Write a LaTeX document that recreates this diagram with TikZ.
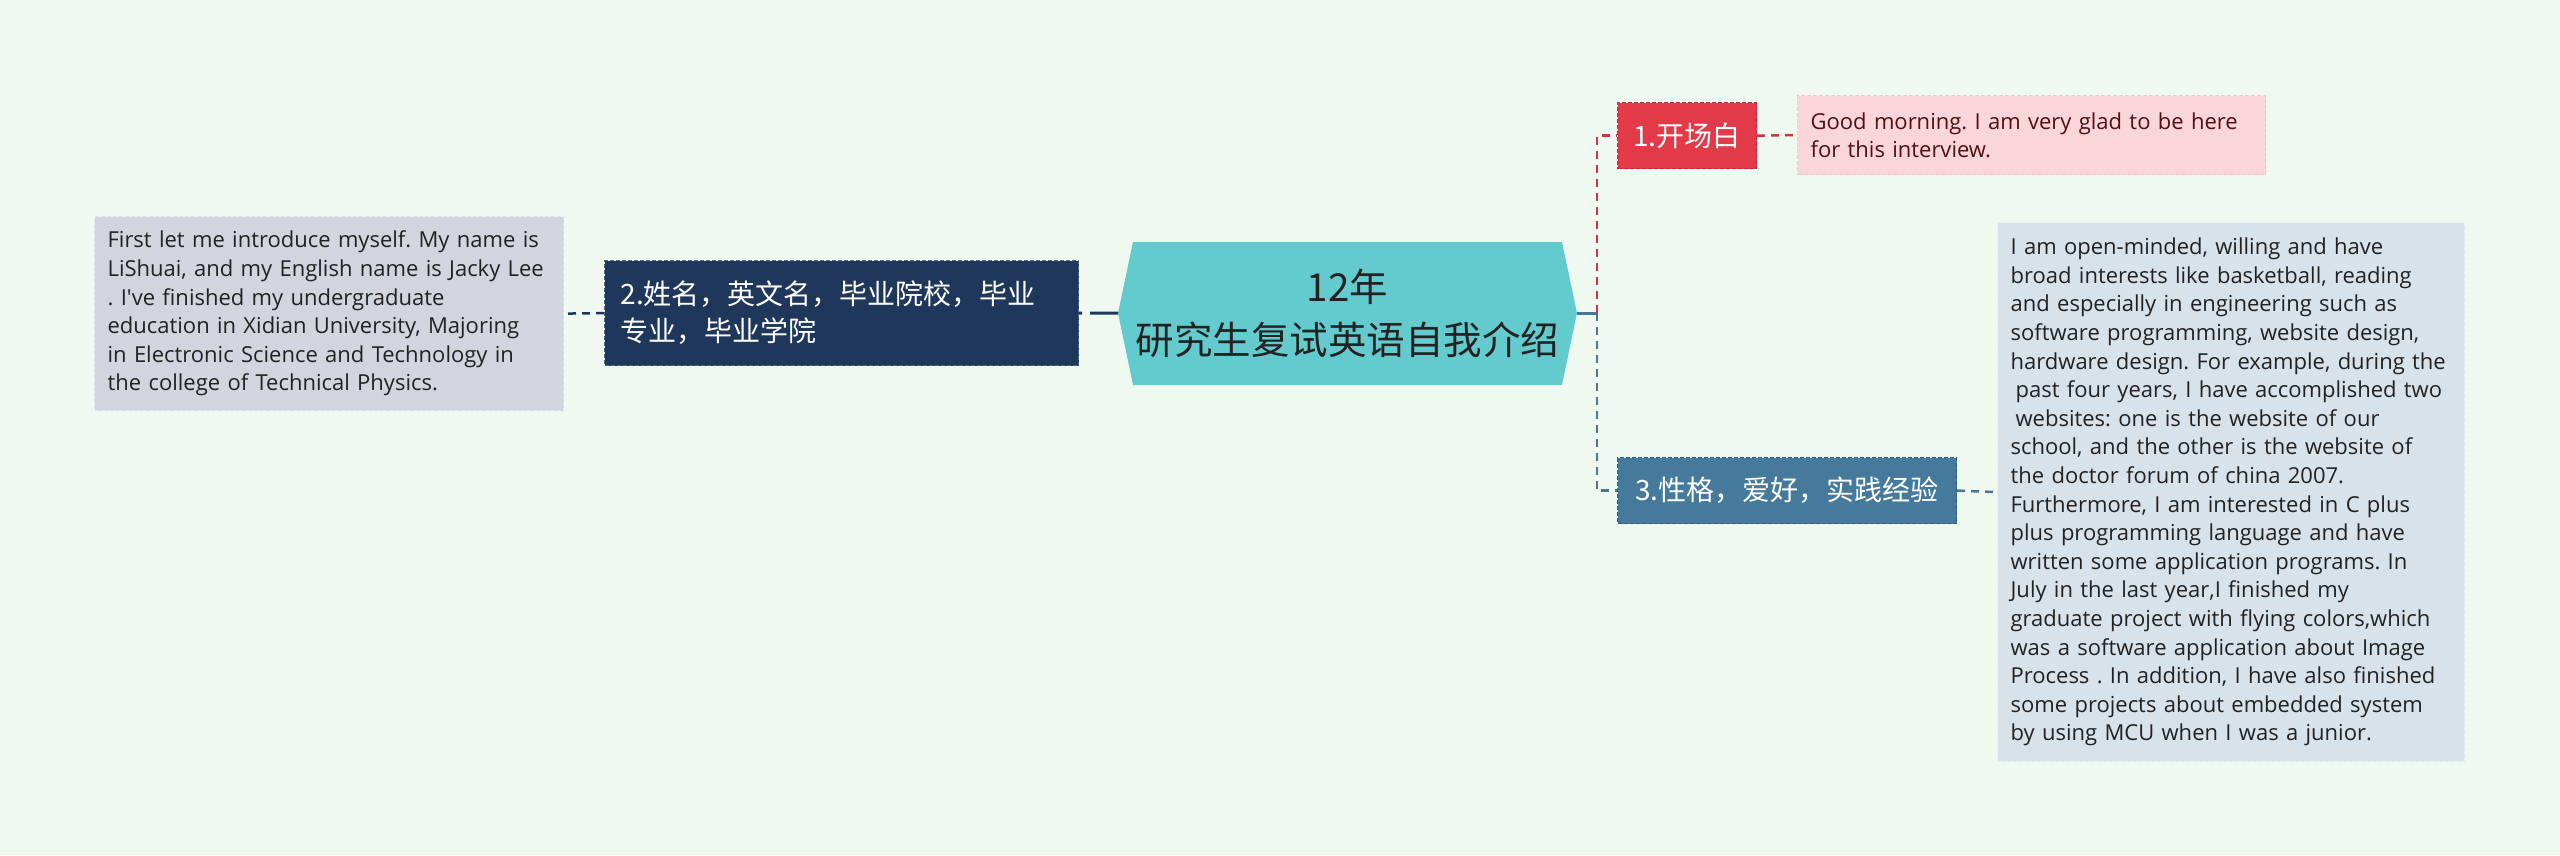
\documentclass[tikz,border=0pt]{standalone}
\usepackage{fontspec}
\setmainfont{Open Sans}
\newfontfamily\cjk{Noto Sans CJK SC}
\usetikzlibrary{calc}
\frenchspacing
\definecolor{bgc}{RGB}{240,249,239}
\definecolor{tealc}{RGB}{99,203,206}
\definecolor{navyc}{RGB}{30,55,90}
\definecolor{navyb}{RGB}{80,105,135}
\definecolor{grayc}{RGB}{208,213,222}
\definecolor{grayb}{RGB}{225,229,234}
\definecolor{redc}{RGB}{226,58,72}
\definecolor{redb}{RGB}{196,40,54}
\definecolor{pinkc}{RGB}{250,213,218}
\definecolor{pinkb}{RGB}{240,196,202}
\definecolor{pinkt}{RGB}{80,16,20}
\definecolor{bluec}{RGB}{70,122,156}
\definecolor{blueb}{RGB}{45,95,130}
\definecolor{lbluec}{RGB}{216,226,234}
\definecolor{lblueb}{RGB}{232,238,242}
\definecolor{textc}{RGB}{34,34,34}
\definecolor{redl}{RGB}{210,50,62}
\definecolor{bluel}{RGB}{72,118,152}
\tikzset{
  boxbase/.style={rectangle, anchor=north west, inner ysep=0pt, line width=1.2pt, dash pattern=on 4pt off 2pt},
  textbox/.style={boxbase, align=left, inner xsep=13pt, font=\fontsize{22}{28.6}\selectfont},
  topicbox/.style={boxbase, align=center, inner xsep=0pt, text=white, font=\cjk\fontsize{28}{37}\selectfont},
  conn/.style={line width=2.5pt, dash pattern=on 8pt off 6pt},
}
\begin{document}
\begin{tikzpicture}[x=1pt,y=-1pt]
\useasboundingbox (0,0) rectangle (2560,855);
\fill[bgc] (0,0) rectangle (2560,855);
% central node
\fill[tealc] (1118,313) -- (1133,242) -- (1562,242) -- (1577,313) -- (1562,385) -- (1133,385) -- cycle;
\node[align=center, text=textc, font=\cjk\fontsize{38.5}{53}\selectfont] (c) at (1347.5,313.5) {12年\\研究生复试英语自我介绍};
\coordinate (cl) at (1118,313);
\coordinate (cr) at (1577,313);
\coordinate (j) at (1597,313);
% left branch
\node[topicbox, fill=navyc, draw=navyb, align=left, inner xsep=16pt, text width=442pt, minimum height=105pt] (d) at (604,260) {2.姓名，英文名，毕业院校，毕业\\专业，毕业学院};
\node[textbox, fill=grayc, draw=grayb, text=textc, text width=443pt, minimum height=194pt] (g) at (94,216) {First let me introduce myself. My name is\\LiShuai, and my English name is Jacky Lee\\. I\textquotesingle ve finished my undergraduate\\education in Xidian University, Majoring\\in Electronic Science and Technology in\\the college of Technical Physics.};
% right branch
\node[topicbox, fill=redc, draw=redb, minimum width=139pt, minimum height=66pt] (r) at (1617,102) {1.开场白};
\node[textbox, fill=pinkc, draw=pinkb, text=pinkt, text width=442pt, minimum height=79pt] (p) at (1797,95) {Good morning. I am very glad to be here\\for this interview.};
\node[topicbox, fill=bluec, draw=blueb, minimum width=339pt, minimum height=66pt] (b) at (1617,457) {3.性格，爱好，实践经验};
\node[textbox, fill=lbluec, draw=lblueb, text=textc, text width=441pt, minimum height=539pt] (big) at (1997,222) {I am open-minded, willing and have\\broad interests like basketball, reading\\and especially in engineering such as\\software programming, website design,\\hardware design. For example, during the\\\hspace*{5pt}past four years, I have accomplished two\\\hspace*{5pt}websites: one is the website of our\\school, and the other is the website of\\the doctor forum of china 2007.\\Furthermore, I am interested in C plus\\plus programming language and have\\written some application programs. In\\July in the last year,I finished my\\graduate project with flying colors,which\\was a software application about Image\\Process . In addition, I have also finished\\some projects about embedded system\\by using MCU when I was a junior.};
% connectors
\draw[navyc, line width=3pt, dash pattern=on 28pt off 8pt] (cl) -- (d.east);
\draw[navyc, conn] (d.west) -- (g.east);
\draw[bluel, line width=3pt] (cr) -- (j);
\draw[redl, conn] (j) |- (r.west);
\draw[bluel, conn] (j) |- (b.west);
\draw[redl, conn] (r.east) -- (p.west);
\draw[bluel, conn] (b.east) -- (big.west);
\end{tikzpicture}
\end{document}
